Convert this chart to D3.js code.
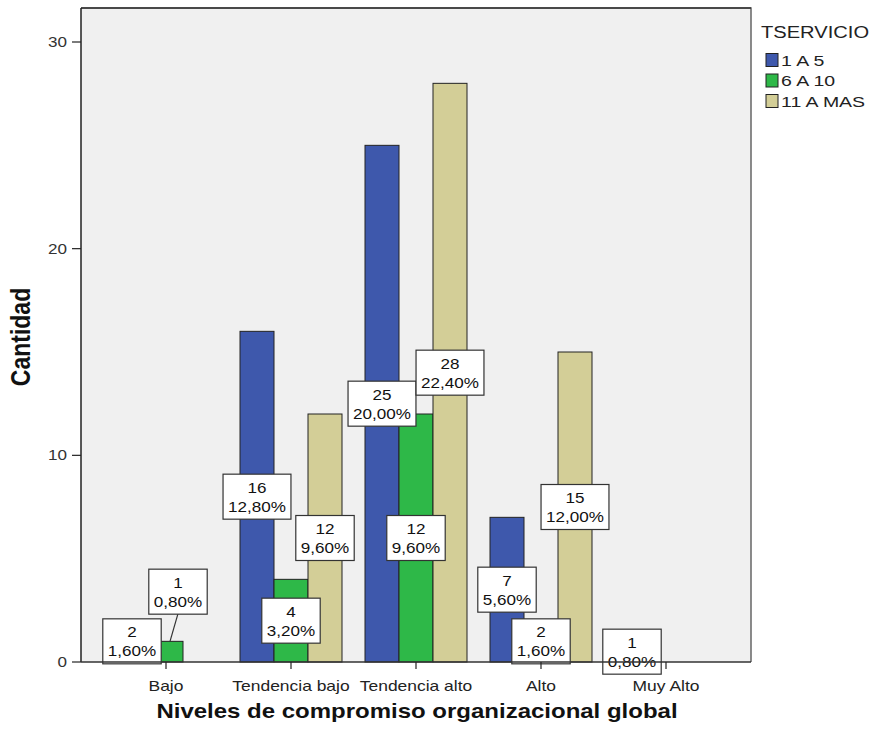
<!DOCTYPE html>
<html><head><meta charset="utf-8">
<script src="https://cdn.jsdelivr.net/npm/d3@7"></script>
<style>body{margin:0;background:#fff;}svg{display:block;font-family:"Liberation Sans",Arial,sans-serif;}</style>
</head><body><svg id="c" width="874" height="736"></svg>
<script>
const categories = ["Bajo","Tendencia bajo","Tendencia alto","Alto","Muy Alto"];
const seriesNames = ["1 A 5","6 A 10","11 A MAS"];
const s1 = [2,16,25,7,1];
const s2 = [1,4,12,2,0];
const s3 = [0,12,28,15,0];
const pct1 = ["1,60%","12,80%","20,00%","5,60%","0,80%"];
const pct2 = ["0,80%","3,20%","9,60%","1,60%",""];
const pct3 = ["","9,60%","22,40%","12,00%",""];
const yTicks = [0,10,20,30];
const colors = ["#3e58ac","#2eb848","#d3ce97"];
const values = [s1,s2,s3];
const pcts = [pct1,pct2,pct3];

const SX = 1.22;
const svg = d3.select("#c");
const L=81,R=751,T=8,B=662;
const y = d3.scaleLinear().domain([0,30]).range([B,42]);
const x0 = d3.scalePoint().domain(categories).range([166,666]);
const x1 = d3.scaleBand().domain(seriesNames).range([-51,51]);

function txt(parent,x,yy,str,size,anchor,opts={}){
  const sx = opts.sx||SX;
  const t = parent.append("text").attr("transform",`translate(${x},${yy}) scale(${sx},1)`+(opts.rot?` rotate(${opts.rot})`:""))
    .attr("text-anchor",anchor||"start").attr("font-size",size).attr("fill",opts.fill||"#222").text(str);
  if(opts.bold) t.attr("font-weight","bold");
  return t;
}

svg.append("rect").attr("x",L).attr("y",T).attr("width",R-L).attr("height",B-T).attr("fill","#f0f0f0");
svg.append("path").attr("d",`M${L},${T}H${R}V${B}`).attr("fill","none").attr("stroke","#666").attr("stroke-width",1.5);
svg.append("line").attr("x1",L).attr("x2",R).attr("y1",T).attr("y2",T).attr("stroke","#333").attr("stroke-width",1.5);

// bars
const g = svg.append("g");
seriesNames.forEach((s,si)=>{
  categories.forEach((c,ci)=>{
    const v = values[si][ci];
    if(!v) return;
    g.append("rect").attr("x",x0(c)+x1(s)).attr("width",x1.bandwidth())
     .attr("y",y(v)).attr("height",B-y(v)).attr("fill",colors[si]).attr("stroke","#222").attr("stroke-width",1);
  });
});

// labels
const lg = svg.append("g");
function label(cx,cy,t1,t2){
  const gg = lg.append("g");
  const a = txt(gg,cx,cy-4,t1,14,"middle",{fill:"#111"});
  const b = txt(gg,cx,cy+15,t2,14,"middle",{fill:"#111"});
  const w = Math.max(a.node().getComputedTextLength(), b.node().getComputedTextLength())*SX+10;
  const h = 45;
  gg.insert("rect","text").attr("x",cx-w/2).attr("y",cy-h/2).attr("width",w).attr("height",h).attr("fill","#fff").attr("stroke","#333").attr("stroke-width",1.2);
}
seriesNames.forEach((s,si)=>{
  categories.forEach((c,ci)=>{
    const v = values[si][ci];
    if(!v) return;
    const bx = x0(c)+x1(s)+x1.bandwidth()/2;
    let cx = bx, cy = y(v/2);
    if(ci===0 && si===1){
      cx = bx+12; cy = y(v/2)-60;
      lg.append("line").attr("x1",cx).attr("y1",cy+22).attr("x2",bx+4).attr("y2",y(v)).attr("stroke","#333").attr("stroke-width",1.2);
    }
    label(cx,cy,String(v),pcts[si][ci]);
  });
});

// axes
svg.append("line").attr("x1",L).attr("x2",L).attr("y1",T).attr("y2",B).attr("stroke","#222").attr("stroke-width",1.5);
svg.append("line").attr("x1",L).attr("x2",R).attr("y1",B).attr("y2",B).attr("stroke","#333").attr("stroke-width",1.5);
const ya = svg.append("g");
yTicks.forEach(t=>{
  ya.append("line").attr("x1",L-9).attr("x2",L).attr("y1",y(t)).attr("y2",y(t)).attr("stroke","#222").attr("stroke-width",1.2);
  txt(ya,L-14,y(t)+5,String(t),14,"end",{fill:"#333"});
});
categories.forEach(c=>{
  svg.append("line").attr("x1",x0(c)).attr("x2",x0(c)).attr("y1",B).attr("y2",B+7).attr("stroke","#222").attr("stroke-width",1.2);
  txt(svg,x0(c),691,c,14.3,"middle",{fill:"#222"});
});
txt(svg,417,718,"Niveles de compromiso organizacional global",20,"middle",{fill:"#111",bold:true,sx:1.2});
svg.append("text").attr("transform","translate(30,337) scale(1.22,1) rotate(-90)").attr("text-anchor","middle")
  .attr("font-size",23).attr("font-weight","bold").attr("fill","#111").text("Cantidad");

// legend
txt(svg,761,38,"TSERVICIO",16.5,"start",{fill:"#222"});
seriesNames.forEach((s,i)=>{
  const yy = 60 + i*20.5;
  svg.append("rect").attr("x",766).attr("y",yy-6.5).attr("width",12).attr("height",13).attr("fill",colors[i]).attr("stroke","#222").attr("stroke-width",1);
  txt(svg,781,yy+5.5,s,15,"start",{fill:"#222",sx:1.3});
});
</script></body></html>
